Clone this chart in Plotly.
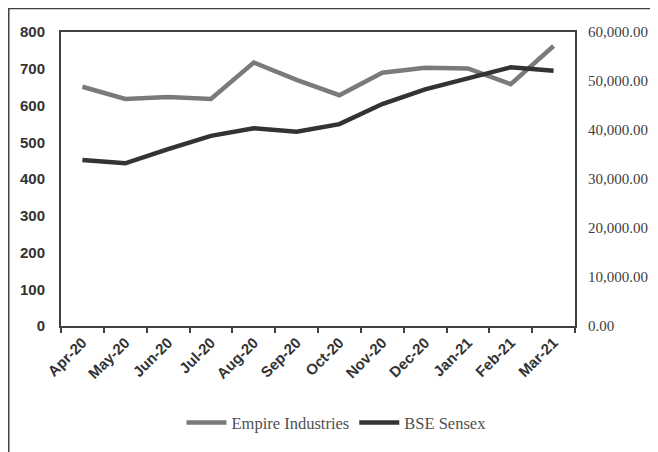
import plotly.graph_objects as go

months = ["Apr-20", "May-20", "Jun-20", "Jul-20", "Aug-20", "Sep-20",
          "Oct-20", "Nov-20", "Dec-20", "Jan-21", "Feb-21", "Mar-21"]
empire = [651, 618, 623, 618, 717, 670, 628, 689, 703, 701, 658, 762]
sensex = [33900, 33200, 36100, 38800, 40350, 39650, 41200, 45300, 48300, 50550, 52800, 52100]

fig = go.Figure()
fig.add_trace(go.Scatter(x=months, y=empire, name="Empire Industries", mode="lines",
                         line=dict(color="#7a7a7a", width=4.5)))
fig.add_trace(go.Scatter(x=months, y=sensex, name="BSE Sensex", mode="lines", yaxis="y2",
                         line=dict(color="#333333", width=4.5)))

axis_line = dict(showline=True, linecolor="#404040", linewidth=2, showgrid=False,
                 zeroline=False, automargin=False)

# page body has an 8px margin, so the figure is sized/offset to compensate
W, H = 650, 444
L, T = 53, 24
R = W - (575 - 8)
B = H - (326 - 8)

fig.update_layout(
    width=W, height=H,
    paper_bgcolor="white", plot_bgcolor="white",
    margin=dict(l=L, r=R, t=T, b=B),
    xaxis=dict(type="category", range=[-0.5, len(months) - 0.5],
               ticks="outside", tickson="boundaries", ticklen=5,
               tickcolor="#404040", tickwidth=1.5, tickangle=-45, mirror=True,
               tickfont=dict(family="Liberation Sans, Arial", size=15, color="#333333", weight="bold"),
               **axis_line),
    yaxis=dict(range=[0, 800], dtick=100, ticks="", mirror=True, ticklabelstandoff=11,
               tickfont=dict(family="Liberation Sans, Arial", size=15, color="#333333", weight="bold"),
               **axis_line),
    yaxis2=dict(range=[0, 60000], dtick=10000, overlaying="y", side="right", ticks="",
                tickformat=",.2f", ticklabelstandoff=8,
                tickfont=dict(family="Liberation Serif, Times New Roman", size=15, color="#404040"),
                **axis_line),
    legend=dict(orientation="h", x=0.536, xanchor="center", y=-0.27, yanchor="top",
                font=dict(family="Liberation Serif, Times New Roman", size=16.5, color="#505050"),
                itemwidth=40),
    showlegend=True,
    shapes=[dict(type="rect", xref="paper", yref="paper",
                 x0=(8.75 - 61) / 514, x1=1.5, y0=-0.6, y1=(326 - 8.5) / 294,
                 line=dict(color="#404040", width=1.5), fillcolor="rgba(0,0,0,0)", layer="below")],
)

fig.write_html("out.html")
